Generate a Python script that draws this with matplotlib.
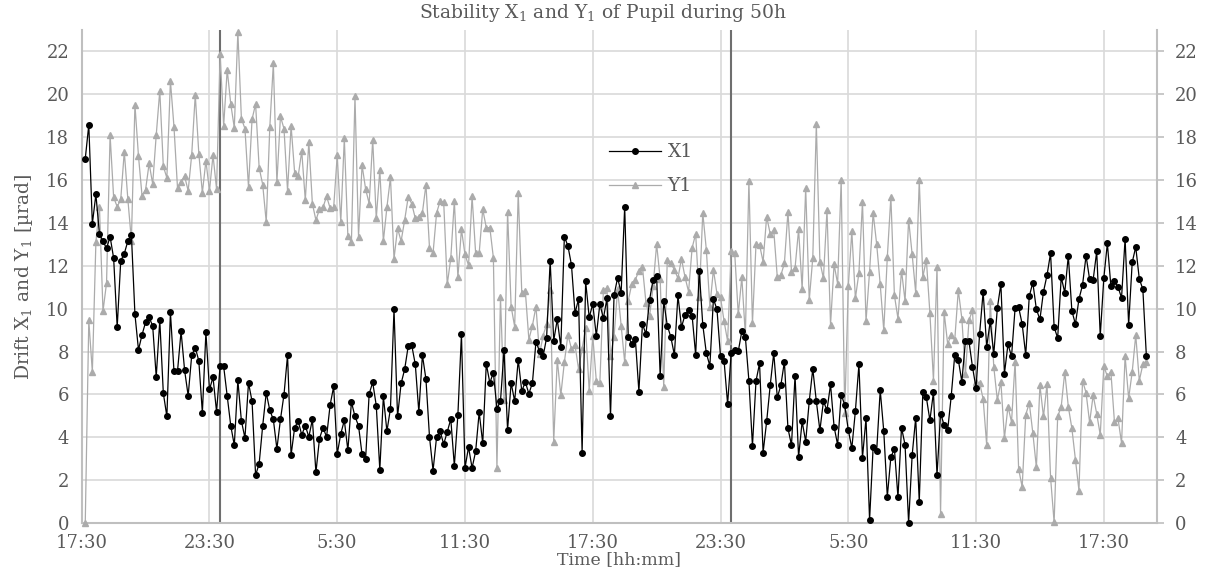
import matplotlib
matplotlib.use("Agg")
import matplotlib.pyplot as plt
import numpy as np

plt.rcParams['font.family'] = ['DejaVu Serif']
plt.rcParams['mathtext.fontset'] = 'dejavuserif'

# pupil drift, logged every 10 min starting 17:40 (hours counted from 17:30)
sample_step_h = 1 / 6
n_samples = 300

x1 = [16.99, 18.58, 13.96, 15.33, 13.49, 13.15, 12.81, 13.36, 12.36, 9.14, 12.23, 12.57, 13.15, 13.46, 9.74,
      8.08, 8.78, 9.37, 9.59, 9.20, 6.82, 9.45, 6.06, 4.97, 9.83, 7.09, 7.09, 8.94, 7.12, 5.94, 7.83, 8.18,
      7.57, 5.14, 8.90, 6.23, 6.80,
      5.19, 7.33, 7.31, 5.94, 4.54, 3.63, 6.66, 4.76, 3.97, 6.54, 5.68, 2.23, 2.77, 4.54, 6.08, 5.26, 4.83,
      3.46, 4.83, 5.99, 7.83, 3.17, 4.45, 4.76, 4.11, 4.54, 4.02, 4.83, 2.36, 3.94, 4.45, 4.02, 5.51, 6.37,
      3.22, 4.16, 4.79,
      3.39, 5.65, 4.97, 4.54, 3.20, 3.00, 6.03, 6.56, 5.48, 2.48, 5.91, 4.28, 5.34, 9.97, 4.97, 6.51, 7.17,
      8.25, 8.29, 7.40, 5.17, 7.84, 6.71, 4.02, 2.45, 4.02, 4.28, 3.68, 4.25, 4.85, 2.67, 5.05, 8.80, 2.57,
      3.54, 2.57,
      3.34, 5.17, 3.72, 7.43, 6.54, 7.02, 5.34, 5.68, 8.08, 4.35, 6.54, 5.68, 7.62, 6.16, 6.58, 6.03, 6.54,
      8.46, 8.01, 7.77, 8.65, 12.23, 8.51, 9.50, 8.22, 13.36, 12.93, 12.04, 9.79, 10.45, 3.29, 11.27, 9.59,
      10.22, 8.73, 10.22, 9.55,
      10.48, 4.97, 10.62, 11.44, 10.75, 14.76, 8.70, 8.36, 8.60, 6.13, 9.28, 8.82, 10.41, 11.34, 11.51, 6.85,
      10.36, 9.21, 8.68, 7.84, 10.62, 9.14, 9.71, 9.93, 9.67, 7.84, 11.78, 9.25, 7.93, 7.33, 10.45, 9.97,
      7.77, 7.57, 5.55, 7.91, 8.08,
      8.01, 8.94, 8.68, 6.64, 3.60, 6.63, 7.45, 3.29, 4.74, 6.42, 7.93, 5.86, 6.42, 7.53, 4.42, 3.63, 6.88,
      3.08, 4.74, 3.80, 5.68, 7.19, 5.68, 4.32, 5.68, 5.26, 6.47, 4.49, 3.65, 5.99, 5.51, 4.35, 3.49, 5.22,
      7.40, 3.05,
      4.88, 0.14, 3.53, 3.37, 6.20, 4.28, 1.23, 3.08, 3.46, 1.20, 4.45, 3.65, 0.00, 3.17, 4.91, 0.99, 6.11,
      5.86, 4.79, 6.11, 2.23, 5.10, 4.59, 4.32, 5.91, 7.84, 7.62, 6.59, 8.48, 8.48, 7.28, 6.30, 8.82, 10.79,
      8.22, 9.42, 7.88,
      10.02, 11.16, 6.97, 8.34, 7.77, 10.02, 10.07, 9.28, 7.84, 10.58, 11.22, 9.97, 9.50, 10.79, 11.56, 12.59,
      9.14, 8.63, 11.47, 10.75, 12.47, 9.90, 9.28, 10.45, 11.10, 12.47, 11.37, 11.35, 12.67, 8.73, 11.42,
      13.05, 11.04, 11.27, 11.01, 10.51, 13.27, 9.25, 12.16, 12.88, 11.39, 10.91, 7.77]

y1 = [0.00, 9.45, 7.05, 13.10, 14.76, 9.88, 11.20, 18.10, 15.19, 14.76, 15.10, 17.33, 15.12, 13.18, 19.52,
      17.12, 15.27, 15.55, 16.78, 15.82, 18.10, 20.17, 16.64, 16.10, 20.63, 18.49, 15.62, 15.92, 16.18, 15.50,
      17.19, 19.98, 17.24, 15.41, 16.90, 15.50, 17.16,
      15.58, 21.90, 18.53, 21.15, 19.55, 18.44, 22.90, 18.87, 18.40, 15.67, 18.84, 19.55, 16.58, 15.79, 14.04,
      18.46, 21.44, 15.89, 18.97, 18.40, 15.50, 18.53, 16.35, 16.18, 17.35, 15.07, 17.77, 14.90, 14.13, 14.64,
      14.73, 15.24, 14.69, 14.73, 17.16, 14.04, 17.95,
      13.39, 13.10, 19.91, 13.36, 16.70, 15.58, 14.90, 17.89, 14.21, 16.47, 13.15, 14.73, 16.13, 12.33, 13.75,
      13.15, 14.13, 15.21, 14.90, 14.21, 14.30, 14.47, 15.79, 12.84, 12.59, 14.47, 15.02, 14.98, 11.13, 12.36,
      15.03, 11.47, 13.70, 12.53, 12.02, 15.24,
      12.59, 12.59, 14.64, 13.78, 13.78, 12.38, 2.57, 10.53, 5.74, 14.52, 10.10, 9.16, 15.41, 10.75, 10.82,
      8.56, 9.21, 10.10, 7.88, 8.73, 9.28, 10.87, 3.80, 7.62, 5.96, 7.50, 8.78, 8.13, 8.30, 7.19, 8.13, 9.08,
      6.16, 8.73, 6.64, 6.54, 10.87,
      10.96, 7.79, 8.68, 10.92, 9.21, 7.50, 10.36, 11.16, 11.34, 11.78, 11.95, 10.27, 9.64, 11.04, 13.01, 11.39,
      6.34, 12.29, 12.12, 11.82, 11.42, 12.33, 11.47, 10.79, 12.84, 13.49, 10.53, 14.47, 12.76, 10.10, 11.82,
      10.70, 10.53, 9.42, 8.48, 12.67, 12.59,
      9.73, 11.47, 8.77, 15.96, 9.33, 13.01, 12.98, 12.19, 14.30, 13.49, 13.65, 11.47, 11.56, 12.12, 14.52,
      11.73, 11.90, 13.70, 10.92, 15.63, 10.39, 12.38, 18.61, 12.19, 11.42, 14.59, 9.25, 12.07, 11.16, 16.01,
      5.14, 11.04, 13.61, 10.48, 11.68, 14.98,
      9.42, 11.73, 14.47, 13.01, 11.13, 8.99, 12.41, 15.21, 10.62, 9.54, 11.78, 10.36, 14.16, 12.53, 10.74,
      15.99, 11.47, 12.29, 9.79, 6.64, 11.95, 0.43, 9.85, 8.36, 8.77, 8.53, 10.87, 9.54, 6.93, 9.45, 9.93,
      6.59, 6.54, 5.79, 3.63, 10.36, 7.28,
      5.74, 6.59, 3.97, 5.43, 4.71, 7.53, 2.52, 1.68, 5.05, 5.60, 4.20, 2.60, 6.42, 4.97, 6.47, 2.12, 0.03,
      4.97, 5.43, 7.05, 5.43, 4.42, 2.95, 1.51, 6.64, 6.08, 4.69, 5.96, 5.10, 4.11, 7.31, 6.85, 7.05, 4.71,
      4.88, 3.73, 7.79, 5.82, 7.05, 8.77, 6.64, 7.40, 7.53]

tick_hours = [0, 6, 12, 18, 24, 30, 36, 42, 48]
tick_labels = ['17:30', '23:30', '5:30', '11:30', '17:30', '23:30', '5:30', '11:30', '17:30']
midnight_hours = [6.5, 30.5]
y_ticks = list(range(0, 23, 2))

hours = np.arange(1, n_samples + 1) * sample_step_h

txt = '#595959'
grid = '#D9D9D9'
axis_col = '#BFBFBF'

fig = plt.figure(figsize=(12.05, 5.69), dpi=100)
ax = fig.add_axes([0.0678, 0.0808, 0.8924, 0.8664])

ax.set_xlim(0, 50.5)
ax.set_ylim(0, 23)
ax.set_xticks(tick_hours)
ax.set_xticklabels(tick_labels)
ax.set_yticks(y_ticks)
ax.grid(True, color=grid, lw=1.2, zorder=0)
ax.set_axisbelow(True)

for h in midnight_hours:
    ax.axvline(h, color='#6E6E6E', lw=1.5, zorder=1)

ax.plot(hours, y1, color='#ABABAB', lw=0.9, marker='^', ms=4.8, label='Y1', zorder=3, clip_on=False)
ax.plot(hours, x1, color='black', lw=0.9, marker='o', ms=4.0, label='X1', zorder=4, clip_on=False)

for s in ['left', 'bottom', 'right']:
    ax.spines[s].set_color(axis_col)
    ax.spines[s].set_linewidth(1.5)
ax.spines['top'].set_visible(False)

ax.tick_params(axis='both', length=0, labelsize=13, labelcolor=txt)
ax.tick_params(axis='y', pad=9)
ax.tick_params(axis='x', pad=8)

ax2 = ax.twinx()
ax2.set_ylim(ax.get_ylim())
ax2.set_yticks(y_ticks)
ax2.tick_params(axis='y', length=5, width=1.2, color=axis_col, labelsize=13, labelcolor=txt, pad=8)
for s in ax2.spines.values():
    s.set_visible(False)

handles, labels = ax.get_legend_handles_labels()
leg = ax.legend(handles[::-1], labels[::-1], loc='upper left', bbox_to_anchor=(0.49, 0.77),
                frameon=False, fontsize=13.5, handlelength=2.8, handletextpad=0.35,
                labelspacing=0.85, borderpad=0, borderaxespad=0)
for t in leg.get_texts():
    t.set_color(txt)

fig.text(0.5, 0.977, r'Stability X$_1$ and Y$_1$ of Pupil during 50h', ha='center', va='center',
         fontsize=13.5, color=txt)
ax.set_xlabel('Time [hh:mm]', fontsize=12.5, color=txt, labelpad=-1)
ax.set_ylabel(r'Drift X$_1$ and Y$_1$ [µrad]', fontsize=13.5, color=txt, labelpad=8)

fig.savefig('out.png', dpi=100, facecolor='white')
